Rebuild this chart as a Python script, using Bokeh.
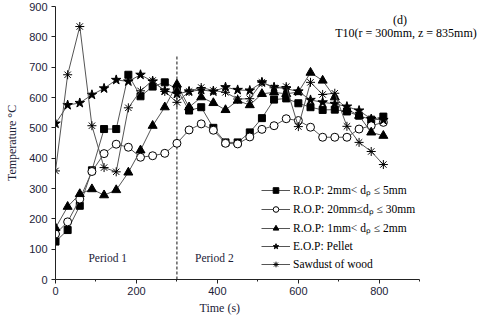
from bokeh.plotting import figure
from bokeh.models import Legend, LegendItem, Label, Range1d, FixedTicker, Title
from bokeh.embed import file_html
from bokeh.resources import INLINE

# ---- data ----
time_s = [0, 30, 60, 90, 120, 150, 180, 210, 240, 270, 300, 330, 360, 390,
          420, 450, 480, 510, 540, 570, 600, 630, 660, 690, 720, 750, 780, 810]
rop_2_5mm = [125, 163, 243, 360, 496, 496, 675, 604, 636, 650, 628, 557, 568, 500,
             452, 452, 485, 532, 593, 597, 581, 568, 559, 560, 554, 540, 527, 537]
rop_20_30mm = [150, 190, 265, 356, 415, 446, 436, 403, 408, 416, 449, 493, 513, 492,
               449, 447, 470, 495, 507, 530, 524, 502, 469, 469, 469, 496, 507, 518]
rop_1_2mm = [170, 240, 282, 298, 278, 295, 353, 426, 507, 568, 643, 568, 601, 582,
             559, 590, 575, 612, 617, 612, 618, 682, 656, 601, 562, 540, 485, 474]
eop_pellet = [514, 575, 582, 609, 630, 658, 653, 675, 653, 623, 612, 620, 625, 620,
              634, 625, 623, 650, 634, 629, 620, 592, 584, 579, 570, 557, 529, 526]
sawdust = [358, 675, 834, 507, 369, 355, 566, 622, 656, 620, 584, 620, 633, 623,
           617, 595, 596, 650, 632, 636, 504, 650, 610, 614, 505, 452, 422, 379]

series_labels = ["R.O.P: 2mm< d\u209a \u2264 5mm",
                 "R.O.P: 20mm\u2264d\u209a \u2264 30mm",
                 "R.O.P: 1mm< d\u209a \u2264 2mm",
                 "E.O.P: Pellet",
                 "Sawdust of wood"]
x_ticks = [0, 200, 400, 600, 800]
x_minor = [100, 300, 500, 700, 900]
y_ticks = [0, 100, 200, 300, 400, 500, 600, 700, 800, 900]
x_axis_bounds = (0, 900)
period_boundary = 300
boundary_top = 740

SERIF = "Liberation Serif"
SANS = "Liberation Sans"
TXT = "#1c2238"

# frame runs past 900 (axis line bounded at 900) so the header text is not clipped
p = figure(width=480, height=317, x_range=Range1d(0, 1050), y_range=Range1d(0, 900),
           output_backend="svg", toolbar_location=None,
           min_border_left=55, min_border_right=0, min_border_top=6, min_border_bottom=38)
p.outline_line_color = None
p.xgrid.grid_line_color = None
p.ygrid.grid_line_color = None
p.background_fill_color = "white"
p.border_fill_color = "white"

p.xaxis.ticker = FixedTicker(ticks=x_ticks, minor_ticks=x_minor)
p.xaxis.bounds = x_axis_bounds
p.yaxis.ticker = FixedTicker(ticks=y_ticks, minor_ticks=[])
for ax in (p.xaxis, p.yaxis):
    ax.major_tick_in = 0
    ax.major_tick_out = 4
    ax.minor_tick_in = 0
    ax.minor_tick_out = 2
    ax.axis_line_color = "#222222"
    ax.major_tick_line_color = "#222222"
    ax.minor_tick_line_color = "#222222"
    ax.major_label_text_font = SANS
    ax.major_label_text_font_size = "11px"
    ax.major_label_text_color = TXT
    ax.axis_label_text_font = SERIF
    ax.axis_label_text_font_size = "12px"
    ax.axis_label_text_font_style = "normal"
    ax.axis_label_text_color = TXT
p.xaxis.major_label_standoff = 3
p.yaxis.major_label_standoff = 4
p.yaxis.axis_label_standoff = 7
p.yaxis.axis_label = "Temperature \u00b0C"

# x-axis title placed under the 0-900 axis span
p.add_layout(Title(text="Time (s)", align="left", offset=144, standoff=3,
                   text_font=SERIF, text_font_size="12px", text_font_style="normal",
                   text_color=TXT), "below")

# dashed boundary between the periods
p.segment(x0=[period_boundary], y0=[0], x1=[period_boundary], y1=[boundary_top],
          line_color="#111111", line_width=1, line_dash="3 2")

LINE = "#555555"
items = []
specs = [
    (rop_2_5mm, "square", "black", 7),
    (rop_20_30mm, "circle", "white", 8),
    (rop_1_2mm, "triangle", "black", 9),
    (eop_pellet, "star", "black", 10),
    (sawdust, "asterisk", "black", 9),
]
for (vals, marker, fill, size), lab in zip(specs, series_labels):
    r_line = p.line(time_s, vals, line_color=LINE, line_width=1)
    r_pts = p.scatter(time_s, vals, marker=marker, size=size, fill_color=fill,
                      line_color="black", line_width=1)
    items.append(LegendItem(label=lab, renderers=[r_line, r_pts]))

legend = Legend(items=items, location=(206, 8), orientation="vertical",
                background_fill_alpha=0, border_line_color=None,
                label_text_font=SERIF, label_text_font_size="11.5px",
                label_text_color="black", glyph_width=29, glyph_height=14,
                label_height=14, label_standoff=3, spacing=4, padding=0, margin=0)
p.add_layout(legend, "center")

# annotations
for txt, x, y in [("(d)", 851, 854), ("T10(r = 300mm, z = 835mm)", 866, 811)]:
    p.add_layout(Label(x=x, y=y, text=txt, text_font=SERIF, text_font_size="12px",
                       text_color="black", text_align="center", text_baseline="middle"))
for txt, x, y in [("Period 1", 129, 72), ("Period  2", 396, 72)]:
    p.add_layout(Label(x=x, y=y, text=txt, text_font=SERIF, text_font_size="11.5px",
                       text_color=TXT, text_align="center", text_baseline="middle"))

open("out.html", "w").write(file_html(p, INLINE))
